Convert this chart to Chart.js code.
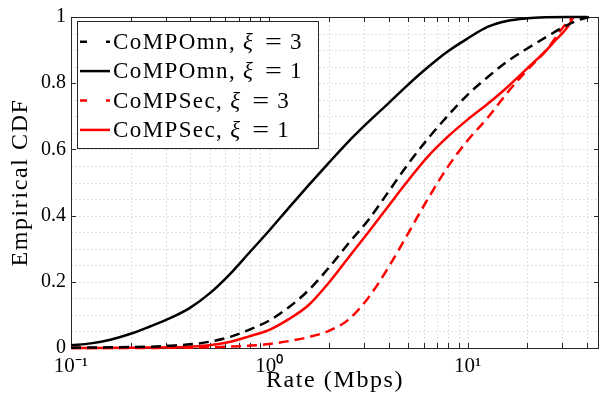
<!DOCTYPE html>
<html>
<head>
<meta charset="utf-8">
<script src="https://cdn.jsdelivr.net/npm/chart.js@4.4.0/dist/chart.umd.min.js"></script>
<style>
html,body{margin:0;padding:0;background:#fff;}
#wrap{width:600px;height:398px;position:relative;}
canvas{display:block;}
</style>
</head>
<body>
<div id="wrap"><canvas id="c" width="600" height="398"></canvas></div>
<script>
// ---------- data ----------
const seriesNames = ['CoMPOmn, ξ = 3', 'CoMPOmn, ξ = 1', 'CoMPSec, ξ = 3', 'CoMPSec, ξ = 1'];

const omn3X = [0.1, 0.158, 0.25, 0.316, 0.4, 0.5, 0.63, 0.79, 1.0, 1.26, 1.58, 2.0, 2.5, 3.16, 4.0, 5.0, 6.3, 7.9, 10, 12.6, 15.8, 20, 25, 31.6, 36, 41];
const omn3Y = [0.001, 0.002, 0.004, 0.007, 0.011, 0.019, 0.033, 0.055, 0.083, 0.124, 0.175, 0.243, 0.315, 0.387, 0.473, 0.555, 0.632, 0.7, 0.765, 0.818, 0.865, 0.905, 0.94, 0.975, 0.99, 1.0];

const omn1X = [0.1, 0.126, 0.158, 0.2, 0.25, 0.316, 0.4, 0.5, 0.63, 0.79, 1.0, 1.26, 1.58, 2.0, 2.5, 3.16, 4.0, 5.0, 6.3, 7.9, 10, 12.6, 15.8, 20, 25, 32, 40];
const omn1Y = [0.008, 0.014, 0.025, 0.043, 0.065, 0.09, 0.122, 0.165, 0.222, 0.287, 0.355, 0.425, 0.492, 0.56, 0.623, 0.683, 0.74, 0.795, 0.848, 0.895, 0.935, 0.97, 0.988, 0.996, 0.999, 1.0, 1.0];

const sec3X = [0.1, 0.316, 0.5, 0.63, 0.79, 1.0, 1.26, 1.58, 2.0, 2.5, 3.16, 4.0, 5.0, 6.3, 7.9, 10, 12.6, 15.8, 20, 25, 30.4, 34.1];
const sec3Y = [0, 0.0005, 0.002, 0.004, 0.007, 0.012, 0.021, 0.033, 0.052, 0.085, 0.152, 0.245, 0.345, 0.45, 0.545, 0.627, 0.695, 0.77, 0.84, 0.9, 0.97, 1.0];

const sec1X = [0.1, 0.2, 0.316, 0.4, 0.5, 0.63, 0.79, 1.0, 1.26, 1.58, 2.0, 2.5, 3.16, 4.0, 5.0, 6.3, 7.9, 10, 12.6, 15.8, 20, 25, 28, 31, 33, 34.1];
const sec1Y = [0, 0.001, 0.002, 0.004, 0.008, 0.018, 0.035, 0.055, 0.088, 0.13, 0.198, 0.272, 0.35, 0.43, 0.505, 0.578, 0.637, 0.69, 0.737, 0.787, 0.845, 0.9, 0.932, 0.96, 0.983, 1.0];

const xTickValues = [0.1, 1, 10];
const xTickLabels = ['10⁻¹', '10⁰', '10¹'];
const yTickValues = [0, 0.2, 0.4, 0.6, 0.8, 1];
const yTickLabels = ['0', '0.2', '0.4', '0.6', '0.8', '1'];
const xTitle = 'Rate (Mbps)';
const yTitle = 'Empirical CDF';

// ---------- styling ----------
const SERIF = "'Liberation Serif', 'Times New Roman', serif";
const X_MIN = 0.1, X_MAX = 46;
const seriesColors = ['#000000', '#000000', '#ff0000', '#ff0000'];
const seriesDashed = [true, false, true, false];

function pts(xs, ys) { return xs.map((x, i) => ({ x: x, y: ys[i] })); }
const seriesData = [pts(omn3X, omn3Y), pts(omn1X, omn1Y), pts(sec3X, sec3Y), pts(sec1X, sec1Y)];

const minorXGrid = [];
[0.1, 1, 10].forEach(d => { for (let k = 1; k <= 9; k++) { const v = k * d; if (v > X_MIN * 1.0001 && v < X_MAX) minorXGrid.push(v); } });
const yGrid = [];
for (let k = 1; k < 20; k++) yGrid.push(k * 0.05);

const matlabPlugin = {
  id: 'matlabStyle',
  beforeDraw(chart) {
    const ctx = chart.ctx;
    ctx.save();
    ctx.fillStyle = '#ffffff';
    ctx.fillRect(0, 0, chart.width, chart.height);
    ctx.restore();
    ['x', 'y'].forEach(id => {
      const s = chart.scales[id];
      if (s && !s._spacedTitle) {
        const orig = s.drawTitle;
        s.drawTitle = function () {
          this.ctx.save();
          this.ctx.letterSpacing = '1.6px';
          orig.apply(this, arguments);
          this.ctx.restore();
        };
        s._spacedTitle = true;
      }
    });
  },
  beforeDatasetsDraw(chart) {
    const ctx = chart.ctx;
    const a = chart.chartArea;
    const xs = chart.scales.x, ys = chart.scales.y;
    ctx.save();
    // dotted grid
    ctx.strokeStyle = '#d4d4d4';
    ctx.lineWidth = 1;
    ctx.setLineDash([1.5, 2.5]);
    minorXGrid.forEach(v => {
      const px = Math.round(xs.getPixelForValue(v)) + 0.5;
      ctx.beginPath(); ctx.moveTo(px, a.top); ctx.lineTo(px, a.bottom); ctx.stroke();
    });
    yGrid.forEach(v => {
      const py = Math.round(ys.getPixelForValue(v)) + 0.5;
      ctx.beginPath(); ctx.moveTo(a.left, py); ctx.lineTo(a.right, py); ctx.stroke();
    });
    ctx.setLineDash([]);
    // frame
    ctx.strokeStyle = '#262626';
    ctx.lineWidth = 1;
    ctx.strokeRect(Math.round(a.left) + 0.5, Math.round(a.top) + 0.5, Math.round(a.right - a.left) - 1, Math.round(a.bottom - a.top));
    // inward tick marks
    const tl = 5;
    ctx.beginPath();
    minorXGrid.concat([X_MIN]).forEach(v => {
      const px = Math.round(xs.getPixelForValue(v)) + 0.5;
      ctx.moveTo(px, a.bottom); ctx.lineTo(px, a.bottom - tl);
      ctx.moveTo(px, a.top); ctx.lineTo(px, a.top + tl);
    });
    yTickValues.forEach(v => {
      const py = Math.round(ys.getPixelForValue(v)) + 0.5;
      ctx.moveTo(a.left, py); ctx.lineTo(a.left + tl, py);
      ctx.moveTo(a.right, py); ctx.lineTo(a.right - tl, py);
    });
    ctx.stroke();
    ctx.restore();
  },
  afterDatasetsDraw(chart) {
    const ctx = chart.ctx;
    const lx = 77, ly = 21, lw = 241, lh = 127;
    ctx.save();
    ctx.fillStyle = '#ffffff';
    ctx.fillRect(lx, ly, lw, lh);
    ctx.strokeStyle = '#262626';
    ctx.lineWidth = 1;
    ctx.strokeRect(lx + 0.5, ly + 0.5, lw, lh);
    const fontSize = 23;
    seriesNames.forEach((name, i) => {
      const cy = ly + 20.7 + i * 29.4;
      ctx.strokeStyle = seriesColors[i];
      ctx.lineWidth = 2.5;
      ctx.setLineDash(seriesDashed[i] ? [7, 19] : []);
      ctx.beginPath(); ctx.moveTo(80, cy); ctx.lineTo(110, cy); ctx.stroke();
      ctx.setLineDash([]);
      // text: prefix, italic xi, '=', value
      const k = name.indexOf('ξ');
      const prefix = name.slice(0, k).trimEnd();
      const rest = name.slice(k + 1).trim(); // "= 3"
      const parts = rest.split(/\s+/);
      ctx.fillStyle = '#000';
      ctx.textBaseline = 'middle';
      ctx.textAlign = 'left';
      ctx.font = fontSize + 'px ' + SERIF;
      ctx.letterSpacing = '1.4px';
      let x = 113;
      ctx.fillText(prefix, x, cy + 1);
      x += ctx.measureText(prefix).width + 7;
      ctx.letterSpacing = '0px';
      ctx.font = 'italic ' + fontSize + 'px ' + SERIF;
      ctx.fillText('ξ', x, cy + 1);
      ctx.font = fontSize + 'px ' + SERIF;
      ctx.textAlign = 'center';
      ctx.save();
      ctx.translate(x + 30.5, cy + 1);
      ctx.scale(1.3, 1);
      ctx.fillText(parts[0], 0, 0);
      ctx.restore();
      ctx.textAlign = 'left';
      ctx.fillText(parts[1], x + 47, cy + 1);
    });
    ctx.restore();
  }
};

const datasets = seriesData.map((d, i) => ({
  label: seriesNames[i],
  data: d,
  borderColor: seriesColors[i],
  backgroundColor: seriesColors[i],
  borderWidth: 2.5,
  borderDash: seriesDashed[i] ? [10, 6] : [],
  pointRadius: 0,
  fill: false,
  cubicInterpolationMode: 'monotone',
  clip: false
}));

new Chart(document.getElementById('c').getContext('2d'), {
  type: 'line',
  data: { datasets: datasets },
  options: {
    responsive: false,
    animation: false,
    devicePixelRatio: 1,
    layout: { padding: { top: 17, right: 1, left: 0, bottom: 0 } },
    plugins: { legend: { display: false }, tooltip: { enabled: false } },
    scales: {
      x: {
        type: 'logarithmic',
        min: X_MIN,
        max: X_MAX,
        afterBuildTicks(s) { s.ticks = xTickValues.map(v => ({ value: v })); },
        afterFit(s) { s.height = 50; },
        grid: { display: false, drawTicks: false },
        border: { display: false },
        ticks: {
          autoSkip: false, maxRotation: 0, padding: 6, color: '#000',
          font: { family: SERIF, size: 21 },
          callback: function (v, i) { return xTickLabels[i]; }
        },
        title: { display: true, text: xTitle, color: '#000', font: { family: SERIF, size: 24 }, padding: { top: 0, bottom: 3 } }
      },
      y: {
        type: 'linear',
        min: 0,
        max: 1,
        afterBuildTicks(s) { s.ticks = yTickValues.map(v => ({ value: v })); },
        afterFit(s) { s.width = 71; },
        grid: { display: false, drawTicks: false },
        border: { display: false },
        ticks: {
          padding: 5, color: '#000',
          font: { family: SERIF, size: 20 },
          callback: function (v, i) { return yTickLabels[i]; }
        },
        title: { display: true, text: yTitle, color: '#000', font: { family: SERIF, size: 24 }, padding: { top: 6, bottom: 0 } }
      }
    }
  },
  plugins: [matlabPlugin]
});
</script>
</body>
</html>
